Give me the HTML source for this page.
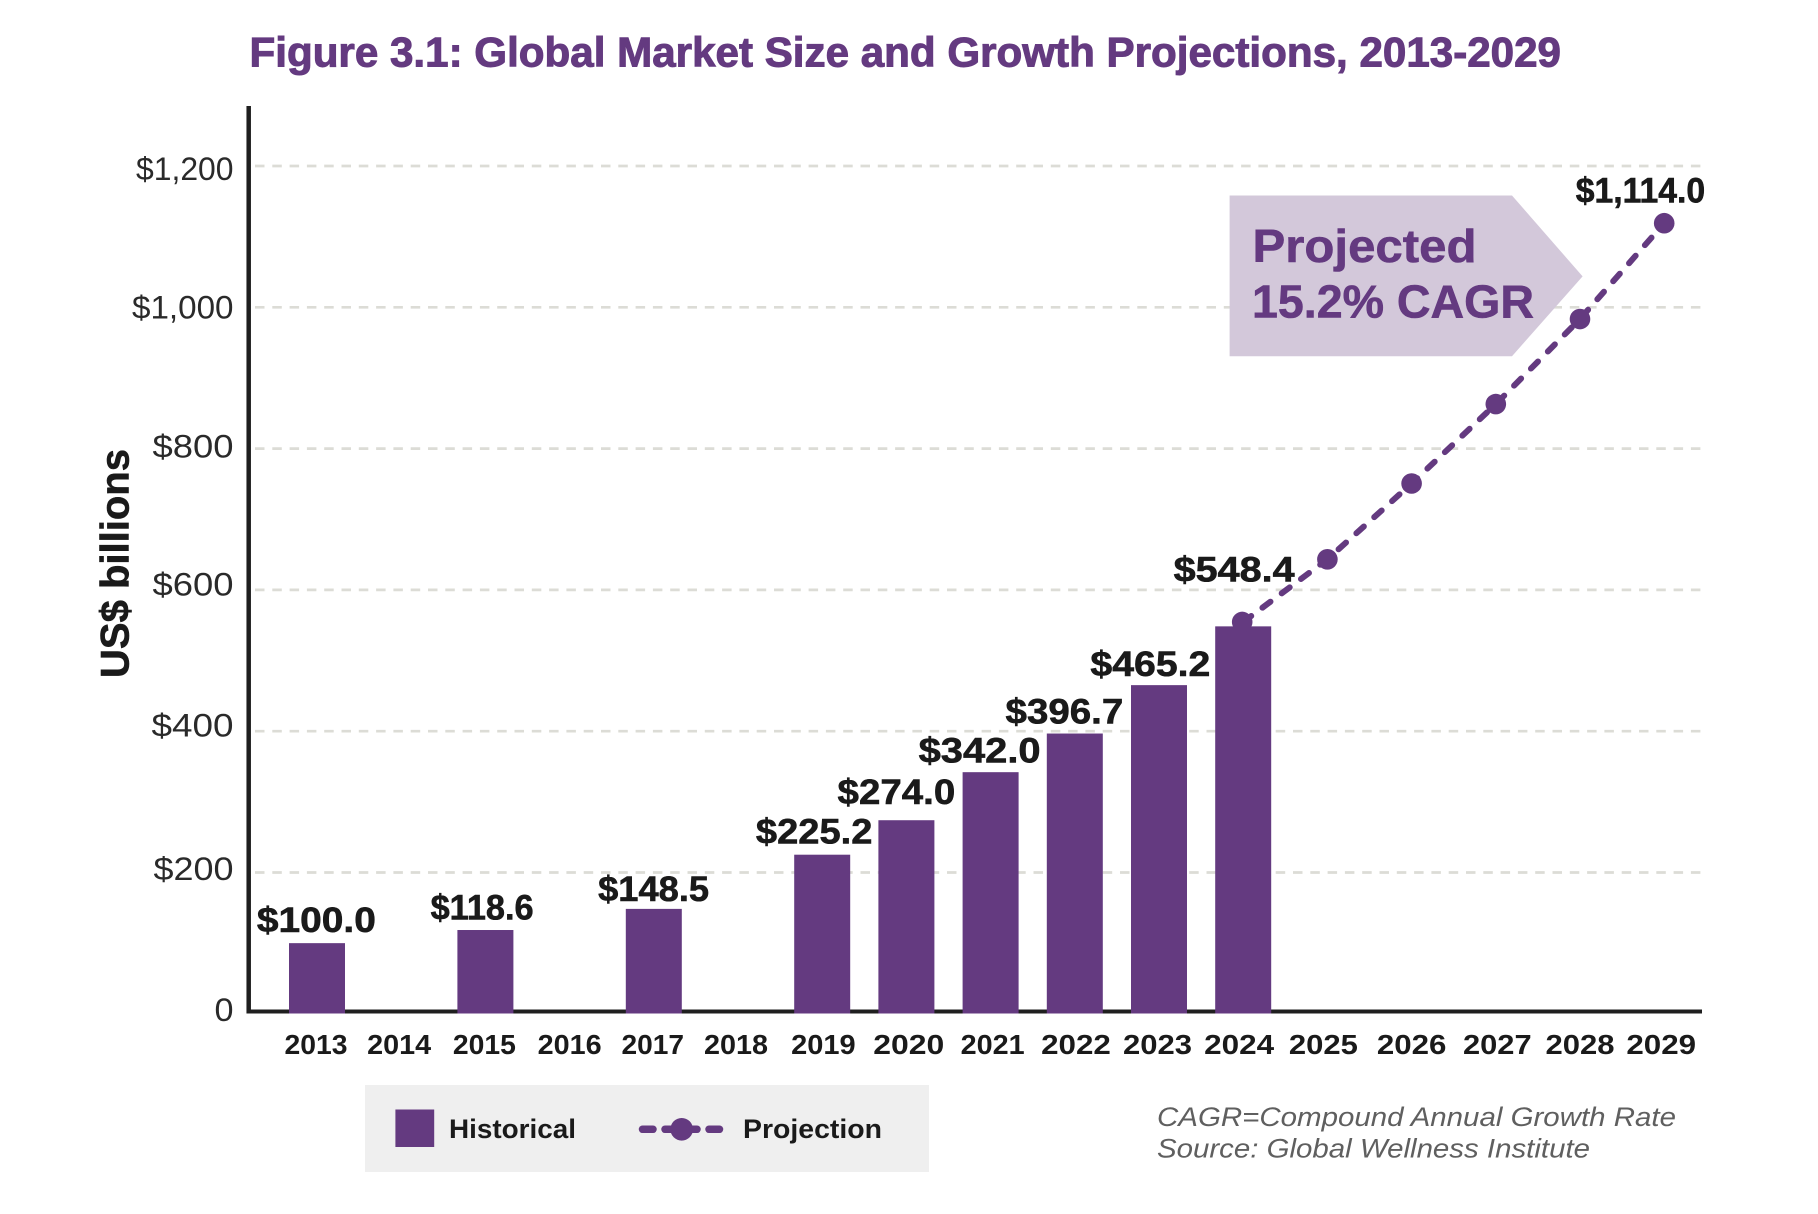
<!DOCTYPE html>
<html lang="en">
<head>
<meta charset="utf-8">
<title>Figure 3.1: Global Market Size and Growth Projections, 2013-2029</title>
<style>
  html, body { margin: 0; padding: 0; background: #ffffff; }
  body { width: 1818px; height: 1214px; overflow: hidden; }
  svg { display: block; }
  text { font-family: "Liberation Sans", sans-serif; }
</style>
</head>
<body>
<svg id="chart" xmlns="http://www.w3.org/2000/svg" width="1818" height="1214" viewBox="0 0 1818 1214">
  <rect x="0" y="0" width="1818" height="1214" fill="#ffffff"/>
  <text x="249.5" y="66.7" font-size="42" font-weight="700" fill="#643a80" stroke="#643a80" stroke-width="1" textLength="1311.5" lengthAdjust="spacingAndGlyphs">Figure 3.1: Global Market Size and Growth Projections, 2013-2029</text>
  <text transform="translate(128.5 678) rotate(-90)" font-size="40" font-weight="700" fill="#1a1a1a" stroke="#1a1a1a" stroke-width="0.6" textLength="229" lengthAdjust="spacingAndGlyphs">US$ billions</text>
  <g id="grid"></g>
  <g id="y-axis-labels"></g>
  <polygon points="1229.6,195.5 1512,195.5 1582.6,276.4 1512,356.2 1229.6,356.2" fill="#d3c8da"/>
  <text x="1252.5" y="262" font-size="46" font-weight="700" fill="#643a80" stroke="#643a80" stroke-width="0.6" textLength="224" lengthAdjust="spacingAndGlyphs">Projected</text>
  <text x="1252" y="317.5" font-size="46" font-weight="700" fill="#643a80" stroke="#643a80" stroke-width="0.6" textLength="282" lengthAdjust="spacingAndGlyphs">15.2% CAGR</text>
  <line x1="248.7" y1="106" x2="248.7" y2="1013.5" stroke="#1f1f1f" stroke-width="4.5"/>
  <line x1="246.5" y1="1011.5" x2="1702" y2="1011.5" stroke="#1f1f1f" stroke-width="4"/>
  <g id="bars"></g>
  <g id="projection"></g>
  <g id="value-labels"></g>
  <g id="x-axis-labels"></g>

  <g>
    <rect x="365" y="1085" width="564" height="87" fill="#efefef"/>
    <rect x="395.4" y="1109.5" width="38.8" height="37.5" fill="#643a80"/>
    <text x="449" y="1138" font-size="27" font-weight="700" fill="#1a1a1a" textLength="127" lengthAdjust="spacingAndGlyphs">Historical</text>
    <g stroke="#643a80" stroke-width="7.5" stroke-linecap="round">
      <line x1="642.5" y1="1129.3" x2="653" y2="1129.3"/>
      <line x1="665" y1="1129.3" x2="697" y2="1129.3"/>
      <line x1="709" y1="1129.3" x2="719.5" y2="1129.3"/>
      <circle cx="681.7" cy="1129.3" r="11.3" fill="#643a80" stroke="none"/>
    </g>
    <text x="743" y="1138" font-size="27" font-weight="700" fill="#1a1a1a" textLength="139" lengthAdjust="spacingAndGlyphs">Projection</text>
  </g>

  <text x="1157" y="1125.8" font-size="27" font-style="italic" fill="#5f5f5f" textLength="519" lengthAdjust="spacingAndGlyphs">CAGR=Compound Annual Growth Rate</text>
  <text x="1157" y="1157.5" font-size="27" font-style="italic" fill="#5f5f5f" textLength="433" lengthAdjust="spacingAndGlyphs">Source: Global Wellness Institute</text>
</svg>

<script>
// ---- chart data ----
const categories = ['2013','2014','2015','2016','2017','2018','2019','2020','2021','2022','2023','2024','2025','2026','2027','2028','2029'];
const historicalValues = [100.0,null,118.6,null,148.5,null,225.2,274.0,342.0,396.7,465.2,548.4,null,null,null,null,null];
const projectionValues = [null,null,null,null,null,null,null,null,null,null,null,554.6,643.3,750.6,863,983.4,1119];
const projectionLabels = [null,null,null,null,null,null,null,null,null,null,null,null,null,null,null,null,'$1,114.0'];
const yTicks = [0,200,400,600,800,1000,1200];
const yTickLabels = ['0','$200','$400','$600','$800','$1,000','$1,200'];

// ---- axis functions ----
function xScale(i) { return 317 + i * 84.2; }
function yScale(v) { return 1013.8 - v * 0.7065; }

// ---- hand-set label layout (offsets relative to the axis functions) ----
const tickNudge = { 0: [7, 19], 200: [7.5, 80], 400: [5.5, 82], 600: [5.8, 81], 800: [9, 81], 1000: [11.3, 101.5], 1200: [14, 97.5] };
const valueNudge = {
  2013: [-0.6, -11, 119], 2015: [-3.3, -10.6, 103], 2017: [-0.2, -8, 111], 2019: [-8, -11, 116.5],
  2020: [-10, -16, 117.7], 2021: [-11, -9.5, 122], 2022: [-10.4, -10, 117.7], 2023: [-8.6, -9, 120],
  2024: [-9, -45, 121]
};
const xLabelWidth = { 2013: 63, 2014: 64, 2015: 63, 2016: 64, 2017: 62.5, 2018: 64, 2019: 64.5, 2020: 71, 2021: 64, 2022: 69.7, 2023: 69, 2024: 70, 2025: 69, 2026: 69.5, 2027: 68.6, 2028: 69, 2029: 69.7 };
const xLabelNudge = { 2013: -1, 2014: -2, 2015: -1, 2016: 0, 2017: -1, 2018: -2, 2019: 1.2, 2020: 2.4, 2021: 2, 2022: 1.2, 2023: -1.5, 2024: -4, 2025: -4, 2026: 0, 2027: 1.5, 2028: 0, 2029: -3 };

const NS = 'http://www.w3.org/2000/svg';
const PURPLE = '#643a80';
function make(tag, attrs, parentId) {
  const el = document.createElementNS(NS, tag);
  Object.keys(attrs).forEach(function (k) { el.setAttribute(k, attrs[k]); });
  document.getElementById(parentId).appendChild(el);
  return el;
}

// gridlines and y tick labels
yTicks.forEach(function (t, i) {
  if (t !== 0) {
    const g = make('line', { x1: 255, x2: 1701.5, y1: yScale(t), y2: yScale(t), stroke: '#dcdcd6', 'stroke-width': 2.7, 'stroke-dasharray': '9.5 7.8' }, 'grid');
    
    
  }
  const n = tickNudge[t] || [7, 80];
  const lab = make('text', { x: 233.5 - n[1], y: yScale(t) + n[0], 'font-size': 32, fill: '#2a2a2a', textLength: n[1], lengthAdjust: 'spacingAndGlyphs' }, 'y-axis-labels');
  lab.textContent = yTickLabels[i];
  
  
});

// bars
const BAR_W = 56;
historicalValues.forEach(function (v, i) {
  if (v === null) return;
  const top = yScale(v);
  const r = make('rect', { x: xScale(i) - BAR_W / 2, y: top, width: BAR_W, height: 1013.5 - top, fill: PURPLE }, 'bars');
  
  

  const n = valueNudge[categories[i]] || [0, -10, 118];
  const t = make('text', { x: xScale(i) + n[0] - n[2] / 2, y: top + n[1], 'font-size': 35, 'font-weight': 700, fill: '#1a1a1a', stroke: '#1a1a1a', 'stroke-width': 0.6, textLength: n[2], lengthAdjust: 'spacingAndGlyphs' }, 'value-labels');
  t.textContent = '$' + v.toFixed(1);
  
  
});

// projection line
const projPoints = [];
projectionValues.forEach(function (v, i) {
  if (v !== null) projPoints.push(xScale(i).toFixed(1) + ',' + yScale(v).toFixed(1));
});
const projLine = make('polyline', { points: projPoints.join(' '), fill: 'none', stroke: PURPLE, 'stroke-width': 6, 'stroke-linecap': 'round', 'stroke-linejoin': 'round', 'stroke-dasharray': '10 14' }, 'projection');



projectionValues.forEach(function (v, i) {
  if (v === null) return;
  const c = make('circle', { cx: xScale(i) - (i === 11 ? 1 : 0), cy: yScale(v), r: 10.3, fill: PURPLE }, 'projection');
  
  
  if (projectionLabels[i]) {
    const t = make('text', { x: xScale(i) - 88.5, y: yScale(v) - 20.8, 'font-size': 35, 'font-weight': 700, fill: '#1a1a1a', stroke: '#1a1a1a', 'stroke-width': 0.6, textLength: 129.5, lengthAdjust: 'spacingAndGlyphs' }, 'value-labels');
    t.textContent = projectionLabels[i];
    
    
  }
});

// x tick labels
categories.forEach(function (c, i) {
  const w = xLabelWidth[c] || 66;
  const t = make('text', { x: xScale(i) + xLabelNudge[c] - w / 2, y: 1054, 'font-size': 28, 'font-weight': 700, fill: '#1a1a1a', textLength: w, lengthAdjust: 'spacingAndGlyphs' }, 'x-axis-labels');
  t.textContent = c;
  
  
});
</script>
</body>
</html>
